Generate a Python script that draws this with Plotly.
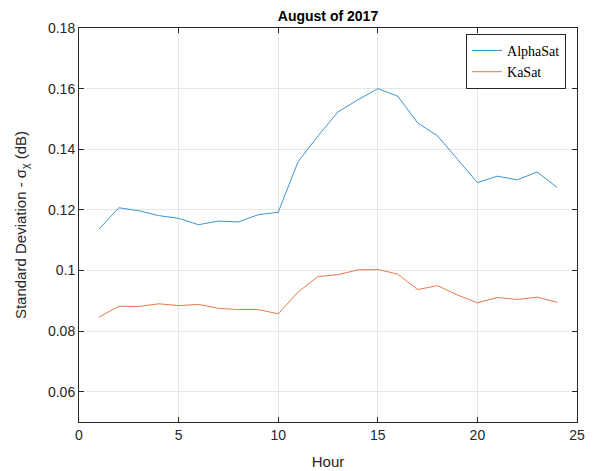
import plotly.graph_objects as go

hours = list(range(1, 25))
alphasat = [0.1136, 0.1207, 0.1197, 0.1181, 0.1172, 0.1151, 0.1163, 0.1160,
            0.1184, 0.1192, 0.1359, 0.1444, 0.1523, 0.1563, 0.1600, 0.1575,
            0.1487, 0.1444, 0.1367, 0.1290, 0.1311, 0.1299, 0.1325, 0.1274]
kasat = [0.0846, 0.0882, 0.0881, 0.0890, 0.0884, 0.0888, 0.0875, 0.0871,
         0.0871, 0.0857, 0.0929, 0.0980, 0.0986, 0.1002, 0.1003, 0.0988,
         0.0937, 0.0950, 0.0919, 0.0893, 0.0911, 0.0904, 0.0912, 0.0895]
xticks = [0, 5, 10, 15, 20, 25]
yticks = [0.06, 0.08, 0.10, 0.12, 0.14, 0.16, 0.18]
ytick_labels = ["0.06", "0.08", "0.1", "0.12", "0.14", "0.16", "0.18"]

W, H = 585, 463  # page body has 8px margin

fig = go.Figure()
fig.add_trace(go.Scatter(x=hours, y=alphasat, mode="lines", name="AlphaSat",
                         line=dict(color="#3f93d0", width=1)))
fig.add_trace(go.Scatter(x=hours, y=kasat, mode="lines", name="KaSat",
                         line=dict(color="#e8784a", width=1)))

axis_common = dict(
    showline=True, mirror="ticks", linecolor="#262626", linewidth=1,
    ticks="inside", ticklen=5, tickcolor="#262626",
    showgrid=True, gridcolor="#e6e6e6", gridwidth=1, zeroline=False,
    automargin=False,
    tickfont=dict(family="Liberation Sans, Arial", size=14, color="#262626"),
)

fig.update_layout(
    width=W, height=H,
    margin=dict(l=71, r=16, t=20, b=49),
    paper_bgcolor="white", plot_bgcolor="white",
    title=dict(text="<b>August of 2017</b>", x=(328 - 8) / W, xanchor="center",
               y=1 - 8 / H, yanchor="middle",
               font=dict(family="Liberation Sans, Arial", size=14, color="black")),
    xaxis=dict(range=[0, 25], tickvals=xticks,
               title=dict(text="Hour", standoff=14,
                          font=dict(family="Liberation Sans, Arial", size=15, color="#262626")),
               **axis_common),
    yaxis=dict(range=[0.05, 0.18], tickvals=yticks, ticktext=ytick_labels,
               title=dict(text="Standard Deviation - σ<sub>χ</sub> (dB)", standoff=17,
                          font=dict(family="Liberation Sans, Arial", size=15, color="#262626")),
               **axis_common),
    legend=dict(x=0.978, y=0.985, xanchor="right", yanchor="top",
                bordercolor="#262626", borderwidth=1, bgcolor="white",
                font=dict(family="Liberation Serif, DejaVu Serif", size=14, color="black"),
                tracegroupgap=0, itemwidth=30),
    showlegend=True,
)

fig.write_html("out.html")
